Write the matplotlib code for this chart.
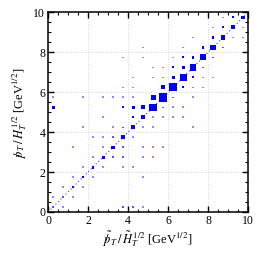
import matplotlib
matplotlib.use("Agg")
import matplotlib.pyplot as plt
from matplotlib.patches import Rectangle
from matplotlib.collections import PatchCollection

plt.rcParams['mathtext.fontset'] = 'stix'
plt.rcParams['font.family'] = ['Liberation Serif', 'DejaVu Serif']

# ---- data: 2D histogram, bin width 0.5, box side as fraction of bin width ----
bin_width = 0.5
# diagonal bins (x == y), bin centres 0.25 .. 9.75
diag_centres = [0.25 + 0.5 * k for k in range(20)]
diag_frac = [0.13, 0.15, 0.20, 0.27, 0.28, 0.30, 0.32, 0.35, 0.40, 0.43,
             0.73, 0.85, 0.80, 0.70, 0.65, 0.60, 0.53, 0.47, 0.40, 0.33]
# first bin above the diagonal (x = c, y = c + 0.5)
upper_centres = [0.25 + 0.5 * k for k in range(19)]
upper_frac = [0.10, 0.10, 0.12, 0.12, 0.12, 0.12, 0.14, 0.14, 0.18, 0.40,
              0.50, 0.40, 0.30, 0.30, 0.25, 0.25, 0.25, 0.20, 0.20]
# first bin below the diagonal (x = c + 0.5, y = c)
lower_centres = [0.25 + 0.5 * k for k in range(19)]
lower_frac = [0.10, 0.10, 0.10, 0.10, 0.12, 0.15, 0.15, 0.12, 0.12, 0.12,
              0.15, 0.15, 0.20, 0.20, 0.15, 0.15, 0.15, 0.12, 0.12]
# other populated bins
other_x = [0.25, 4.25, 3.75, 6.25, 6.75,
           0.25, 1.75, 2.75, 3.25, 2.75, 1.75, 2.25, 2.75, 3.25,
           4.75, 3.75, 4.75, 5.25, 5.75, 6.25, 5.75, 5.25, 4.25, 6.75,
           7.75, 8.25, 7.25, 7.75, 7.25, 6.75, 6.75, 7.25, 6.25, 5.75,
           6.25, 5.25, 3.75, 4.25, 3.75, 4.25, 4.25, 4.75, 5.25, 3.75,
           4.75, 5.25, 3.75, 4.25, 4.75, 3.75, 4.25, 4.75, 9.75, 8.25,
           8.75, 7.25, 1.25, 5.75]
other_y = [5.25, 5.25, 5.25, 7.25, 7.75,
           5.75, 5.75, 5.75, 5.75, 4.75, 4.25, 3.75, 3.75, 4.25,
           8.25, 7.75, 7.75, 7.25, 7.25, 7.75, 6.75, 6.75, 6.75, 8.25,
           6.75, 6.75, 6.25, 6.25, 5.75, 5.25, 4.75, 4.25, 5.25, 4.75,
           4.75, 4.25, 6.25, 6.25, 5.75, 5.75, 3.75, 3.25, 3.25, 2.75,
           2.75, 2.75, 2.25, 2.25, 1.75, 0.25, 0.25, 0.25, 8.75, 9.25,
           9.75, 8.75, 3.25, 3.25]
other_frac = [0.30, 0.30, 0.20, 0.20, 0.20,
              0.12, 0.12, 0.12, 0.12, 0.12, 0.12, 0.12, 0.12, 0.12,
              0.12, 0.12, 0.12, 0.12, 0.12, 0.12, 0.12, 0.12, 0.12, 0.12,
              0.12, 0.12, 0.12, 0.12, 0.12, 0.12, 0.12, 0.12, 0.12, 0.12,
              0.12, 0.12, 0.12, 0.12, 0.12, 0.12, 0.12, 0.12, 0.12, 0.15,
              0.12, 0.12, 0.12, 0.12, 0.12, 0.15, 0.15, 0.12, 0.12, 0.12,
              0.12, 0.12, 0.12, 0.12]

major_ticks = [0, 2, 4, 6, 8, 10]

fig = plt.figure(figsize=(2.6, 2.6), dpi=100)
ax = fig.add_axes([48 / 260, 48 / 260, 200 / 260, 199.5 / 260])

xs = diag_centres + upper_centres + [c + 0.5 for c in lower_centres] + other_x
ys = diag_centres + [c + 0.5 for c in upper_centres] + lower_centres + other_y
fr = diag_frac + upper_frac + lower_frac + other_frac


def box_colour(f):
    if f <= 0.125:
        return '#8c8cff'
    if f <= 0.16:
        return '#5555ff'
    return '#0000ff'


rects, cols = [], []
for x, y, f in zip(xs, ys, fr):
    s = max(f, 0.16) * bin_width if f <= 0.125 else f * bin_width
    rects.append(Rectangle((x - s / 2, y - s / 2), s, s))
    cols.append(box_colour(f))
ax.add_collection(PatchCollection(rects, facecolor=cols, edgecolor='none', zorder=3))

ax.plot([0, 10], [0, 10], color='#4040ff', lw=0.8, ls=(0, (1, 2.2)), zorder=2)

ax.set_xlim(0, 10)
ax.set_ylim(0, 10)
ax.set_xticks(major_ticks)
ax.set_yticks(major_ticks)
ax.set_xticks([0.5 * k for k in range(21)], minor=True)
ax.set_yticks([0.5 * k for k in range(21)], minor=True)
ax.tick_params(which='both', direction='in', top=True, right=True, labelsize=8.5, pad=2)
ax.tick_params(which='major', length=4, width=1.0)
ax.tick_params(which='minor', length=2, width=0.8)
for sp in ax.spines.values():
    sp.set_linewidth(1.1)
ax.grid(True, which='major', color='#c8c8c8', ls=(0, (1, 2)), lw=0.6, zorder=0)

ax.set_xlabel(r'$\tilde{/\!\!\!p}_T\,/\,\tilde{H}_T^{\,1/2}$ [GeV$^{1/2}$]', fontsize=9, labelpad=2)
ax.set_ylabel(r'$/\!\!\!p_T\,/\,H_T^{\,1/2}$ [GeV$^{1/2}$]', fontsize=9, labelpad=3)

fig.savefig('out.png', dpi=100)
